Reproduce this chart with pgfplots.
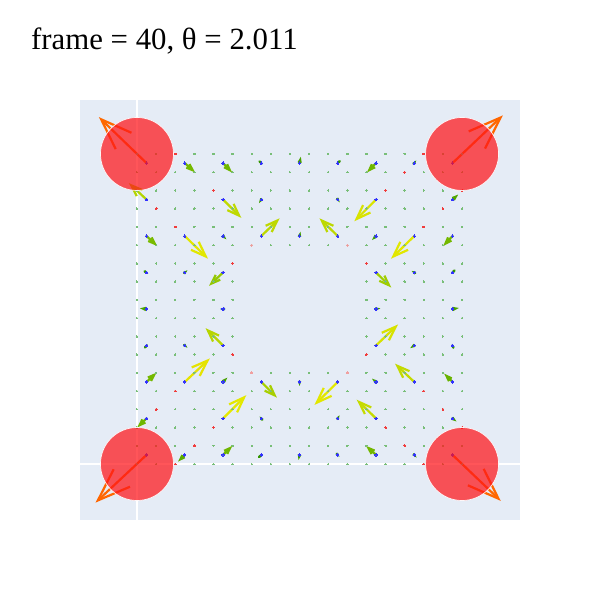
\documentclass[border=0pt]{standalone}
\usepackage{pgfplots}
\pgfplotsset{compat=1.18}
\usepackage{pgfplotstable}
\usetikzlibrary{arrows.meta}
\usepackage{fontspec}
\newfontfamily\tfont{Liberation Serif}
\definecolor{bgc}{RGB}{229,236,246}
\definecolor{dotg}{RGB}{120,190,120}
\definecolor{dotr}{RGB}{240,60,60}
\definecolor{dotp}{RGB}{240,160,160}
\definecolor{tailb}{RGB}{50,50,255}
\definecolor{circ}{RGB}{255,20,25}
\pgfplotsset{colormap={arrowmap}{rgb255(0pt)=(45,145,0) rgb255(5pt)=(65,158,0) rgb255(13pt)=(112,182,0) rgb255(20pt)=(152,202,0) rgb255(26pt)=(192,217,0) rgb255(33pt)=(228,232,0) rgb255(67pt)=(255,102,0) rgb255(100pt)=(255,102,0)}}

\pgfplotstableread{
x y u v L
0.5 16.5 -2.495 2.523 66.3
2.5 16.5 0.539 -0.510 13.9
4.5 16.5 0.471 -0.510 12.9
6.5 16.5 0.068 -0.071 1.8
8.5 16.5 0.068 0.345 6.4
10.5 16.5 -0.052 -0.055 1.4
12.5 16.5 -0.471 -0.510 12.9
14.5 16.5 0.105 0.148 3.4
16.5 16.5 2.631 2.616 69.3
0.5 14.5 -0.921 0.899 24.1
4.5 14.5 0.957 -1.004 25.9
6.5 14.5 -0.120 -0.192 4.2
10.5 14.5 0.105 -0.148 3.4
12.5 14.5 -1.135 -1.190 30.7
16.5 14.5 0.298 0.274 7.6
0.5 12.5 0.560 -0.548 14.6
2.5 12.5 1.219 -1.245 32.5
4.5 12.5 0.173 -0.181 4.7
6.5 12.5 0.957 0.971 25.5
8.5 12.5 0.052 0.236 4.4
10.5 12.5 -0.957 0.971 25.5
12.5 12.5 -0.209 -0.219 5.7
14.5 12.5 -1.219 -1.245 32.5
16.5 12.5 -0.486 -0.548 13.7
0.5 10.5 0.089 -0.055 2.0
2.5 10.5 0.141 0.126 3.5
4.5 10.5 -0.732 -0.729 19.3
12.5 10.5 0.800 -0.823 21.4
14.5 10.5 -0.141 0.093 3.2
16.5 10.5 -0.052 -0.055 1.4
0.5 8.5 -0.350 0.038 6.7
4.5 8.5 -0.157 0 3.0
12.5 8.5 0.225 0.038 4.4
16.5 8.5 0.330 0.055 6.4
0.5 6.5 0.052 0.071 1.6
2.5 6.5 0.141 -0.126 3.5
4.5 6.5 -0.915 0.949 24.6
12.5 6.5 1.151 1.152 30.4
14.5 6.5 -0.209 -0.148 4.8
16.5 6.5 -0.037 0.093 1.8
0.5 4.5 0.523 0.510 13.7
2.5 4.5 1.308 1.289 34.3
4.5 4.5 0.225 0.236 6.1
6.5 4.5 0.821 -0.861 22.2
8.5 4.5 0 -0.219 4.0
10.5 4.5 -1.219 -1.261 32.7
12.5 4.5 -0.209 0.181 5.2
14.5 4.5 -1.010 1.004 26.6
16.5 4.5 -0.434 0.455 11.7
0.5 2.5 -0.486 -0.494 12.9
4.5 2.5 1.219 1.278 33.0
6.5 2.5 -0.089 0.110 2.6
10.5 2.5 0.089 0.181 3.7
12.5 2.5 -1.010 1.026 26.9
16.5 2.5 0.209 -0.165 5.0
0.5 0.5 -2.668 -2.616 69.8
2.5 0.5 -0.350 -0.367 9.5
4.5 0.5 0.486 0.494 12.9
6.5 0.5 0.037 0.038 1.0
8.5 0.5 -0.052 -0.274 5.1
10.5 0.5 0.089 -0.110 2.6
12.5 0.5 -0.523 0.494 13.5
14.5 0.5 0.120 -0.148 3.5
16.5 0.5 2.526 -2.523 66.7
}\arrows

\begin{document}
\begin{tikzpicture}
\path[use as bounding box] (-80bp,-80bp) rectangle (520bp,520bp);
\begin{axis}[
  at={(0,0)}, anchor=south west,
  scale only axis, width=440bp, height=420bp,
  xmin=-2.98, xmax=20.03, ymin=-3.07, ymax=19.96,
  axis background/.style={fill=bgc},
  axis line style={draw=none},
  xtick={0}, ytick={0}, xticklabels={}, yticklabels={},
  major tick length=0pt,
  grid=major, major grid style={white, line width=2bp},
  colormap name=arrowmap,
]
% grid dots
\addplot[only marks, color=dotg, mark=*, mark size=0.7bp, mark options={draw=dotg, fill=dotg, line width=0pt}] coordinates {
(0,0)(1,0)(2,0)(3,0)(4,0)(5,0)(6,0)(7,0)(8,0)(9,0)(10,0)(11,0)(12,0)(13,0)(14,0)(15,0)(16,0)(17,0)
(0,1)(1,1)(2,1)(3,1)(4,1)(5,1)(6,1)(7,1)(8,1)(9,1)(10,1)(11,1)(12,1)(13,1)(14,1)(15,1)(16,1)(17,1)
(0,2)(1,2)(2,2)(3,2)(4,2)(5,2)(6,2)(7,2)(8,2)(9,2)(10,2)(11,2)(12,2)(13,2)(14,2)(15,2)(16,2)(17,2)
(0,3)(1,3)(2,3)(3,3)(4,3)(5,3)(6,3)(7,3)(8,3)(9,3)(10,3)(11,3)(12,3)(13,3)(14,3)(15,3)(16,3)(17,3)
(0,4)(1,4)(2,4)(3,4)(4,4)(5,4)(6,4)(7,4)(8,4)(9,4)(10,4)(11,4)(12,4)(13,4)(14,4)(15,4)(16,4)(17,4)
(0,5)(1,5)(2,5)(3,5)(4,5)(5,5)(6,5)(7,5)(8,5)(9,5)(10,5)(11,5)(12,5)(13,5)(14,5)(15,5)(16,5)(17,5)
(0,6)(1,6)(2,6)(3,6)(4,6)(5,6)(12,6)(13,6)(14,6)(15,6)(16,6)(17,6)
(0,7)(1,7)(2,7)(3,7)(4,7)(5,7)(12,7)(13,7)(14,7)(15,7)(16,7)(17,7)
(0,8)(1,8)(2,8)(3,8)(4,8)(5,8)(12,8)(13,8)(14,8)(15,8)(16,8)(17,8)
(0,9)(1,9)(2,9)(3,9)(4,9)(5,9)(12,9)(13,9)(14,9)(15,9)(16,9)(17,9)
(0,10)(1,10)(2,10)(3,10)(4,10)(5,10)(12,10)(13,10)(14,10)(15,10)(16,10)(17,10)
(0,11)(1,11)(2,11)(3,11)(4,11)(5,11)(12,11)(13,11)(14,11)(15,11)(16,11)(17,11)
(0,12)(1,12)(2,12)(3,12)(4,12)(5,12)(6,12)(7,12)(8,12)(9,12)(10,12)(11,12)(12,12)(13,12)(14,12)(15,12)(16,12)(17,12)
(0,13)(1,13)(2,13)(3,13)(4,13)(5,13)(6,13)(7,13)(8,13)(9,13)(10,13)(11,13)(12,13)(13,13)(14,13)(15,13)(16,13)(17,13)
(0,14)(1,14)(2,14)(3,14)(4,14)(5,14)(6,14)(7,14)(8,14)(9,14)(10,14)(11,14)(12,14)(13,14)(14,14)(15,14)(16,14)(17,14)
(0,15)(1,15)(2,15)(3,15)(4,15)(5,15)(6,15)(7,15)(8,15)(9,15)(10,15)(11,15)(12,15)(13,15)(14,15)(15,15)(16,15)(17,15)
(0,16)(1,16)(2,16)(3,16)(4,16)(5,16)(6,16)(7,16)(8,16)(9,16)(10,16)(11,16)(12,16)(13,16)(14,16)(15,16)(16,16)(17,16)
(0,17)(1,17)(2,17)(3,17)(4,17)(5,17)(6,17)(7,17)(8,17)(9,17)(10,17)(11,17)(12,17)(13,17)(14,17)(15,17)(16,17)(17,17)
};
\addplot[only marks, color=dotr, mark=*, mark size=0.9bp, mark options={draw=dotr, fill=dotr, line width=0pt}] coordinates {
(2,17)(4,15)(1,14)(2,13)(15,17)(14,16)(13,15)(16,14)(15,13)(17,15)
(5,11)(12,11)(5,6)(12,6)
(2,4)(1,3)(4,2)(3,1)(2,0)(15,4)(16,3)(13,2)(14,1)(15,0)(17,2)
};
\addplot[only marks, color=dotp, mark=*, mark size=0.9bp, mark options={draw=dotp, fill=dotp, line width=0pt}] coordinates {
(6,12)(11,12)(6,5)(11,5)
};
% arrow tails
\addplot[only marks, color=tailb, mark=*, mark size=1.2bp, mark options={draw=tailb, fill=tailb, line width=0pt}] table[x=x, y=y] {\arrows};
% circles
\addplot[only marks, color=circ, mark=*, mark size=36.5bp, mark options={fill=circ, fill opacity=0.72, draw=white, draw opacity=0.9, line width=0.7bp}] coordinates {(0,0)(17,0)(0,17)(17,17)};
% arrows
\addplot[
  point meta=explicit, point meta min=0, point meta max=100,
  quiver={u=\thisrow{u}, v=\thisrow{v},
    every arrow/.append style={
      /utils/exec={\pgfmathsetmacro\bl{max(\pgfplotspointmetatransformed*0.047,0.8)}\pgfmathsetmacro\bw{max(\pgfplotspointmetatransformed*0.0342,0.6)}},
      -{Straight Barb[length=\bl bp, width=\bw bp, line width=2.2bp]},
      draw=mapped color, line width=2.2bp, line cap=round
    }},
] table[x=x, y=y, meta=L] {\arrows};
\end{axis}
\node[anchor=base west, inner sep=0pt, font=\tfont\fontsize{30.8bp}{36bp}\selectfont] at (-49bp,470bp) {frame = 40, θ = 2.011};
\end{tikzpicture}
\end{document}
